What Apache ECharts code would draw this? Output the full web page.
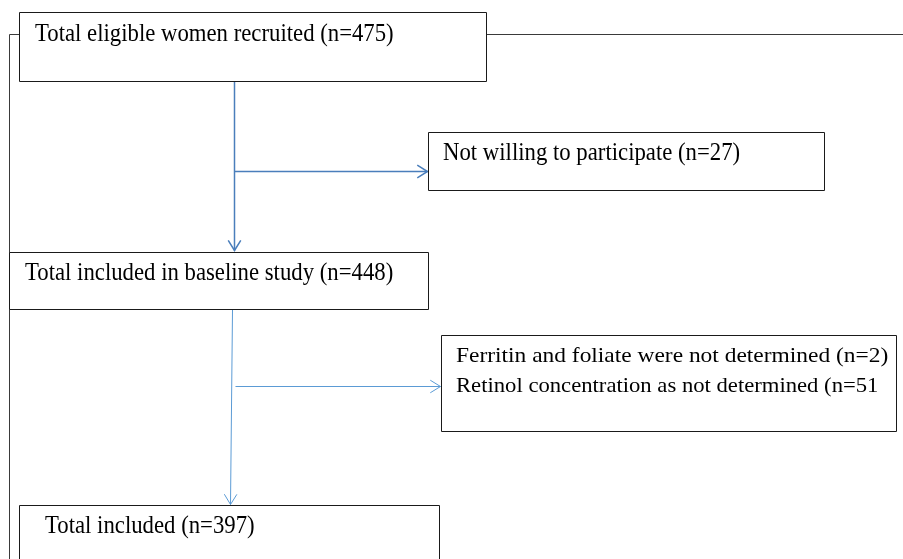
<!DOCTYPE html>
<html><head><meta charset="utf-8">
<script src="https://cdn.jsdelivr.net/npm/echarts@6/dist/echarts.min.js"></script>
<style>html,body{margin:0;padding:0;background:#fff}#c{width:903px;height:559px}</style>
</head><body><div id="c"></div>
<script>
// ---- data ----
const stepLabels = ['Total eligible women recruited', 'Not willing to participate', 'Total included in baseline study', 'Ferritin and foliate were not determined', 'Retinol concentration as not determined', 'Total included'];
const stepCounts = [475, 27, 448, 2, 51, 397];
const stepClosers = [')', ')', ')', ')', '', ')'];

// ---- layout (axis units = pixels) ----
const boxes = [
  {x0: 19, y0: 12, x1: 486, y1: 81},
  {x0: 428, y0: 132, x1: 824, y1: 190},
  {x0: 9, y0: 252, x1: 428, y1: 309},
  {x0: 441, y0: 335, x1: 896, y1: 431},
  {x0: 19, y0: 505, x1: 439, y1: 575}
];
const textPos = [[35, 34.6], [443, 153.6], [25, 273.3], [456, 356.6], [456, 386.6], [45, 526.6]];
const textSize = [25, 25, 25, 22, 22, 25];
const textScaleX = [0.91, 0.91, 0.91, 1.065, 1.03, 0.91];
const connectors = [
  {pts: [[234, 81], [234, 250]], color: '#4a7ebb', width: 1.5, arrow: true},
  {pts: [[234, 171], [427, 171]], color: '#4a7ebb', width: 1.5, arrow: true},
  {pts: [[232, 309], [230, 504]], color: '#5b9bd5', width: 1, arrow: true},
  {pts: [[235, 386], [440, 386]], color: '#5b9bd5', width: 1, arrow: true},
  {pts: [[486, 34], [903, 34]], color: '#3a3a3a', width: 1, arrow: false},
  {pts: [[19, 34], [9, 34], [9, 559]], color: '#3a3a3a', width: 1, arrow: false}
];

const textFor = i => stepLabels[i] + ' (n=' + stepCounts[i] + stepClosers[i];
const crisp = v => Math.round(v) + 0.5;

const chart = echarts.init(document.getElementById('c'), null, {renderer: 'canvas'});
chart.setOption({
  animation: false,
  grid: {left: 0, right: 0, top: 0, bottom: 0},
  xAxis: {type: 'value', min: 0, max: 903, show: false},
  yAxis: {type: 'value', min: 0, max: 559, inverse: true, show: false},
  series: [
    {
      type: 'custom',
      coordinateSystem: 'cartesian2d',
      data: connectors.map((c, i) => [i]),
      renderItem: (params, api) => {
        const c = connectors[params.dataIndex];
        const pts = c.pts.map(p => api.coord(p)).map(p => [crisp(p[0]), crisp(p[1])]);
        const children = [{
          type: 'polyline', shape: {points: pts},
          style: {stroke: c.color, lineWidth: c.width, fill: null}
        }];
        if (c.arrow) {
          const a = pts[pts.length - 2], b = pts[pts.length - 1];
          const ang = Math.atan2(b[1] - a[1], b[0] - a[0]);
          const L = 12, W = 0.55;
          const p1 = [b[0] - L * Math.cos(ang - W), b[1] - L * Math.sin(ang - W)];
          const p2 = [b[0] - L * Math.cos(ang + W), b[1] - L * Math.sin(ang + W)];
          children.push({type: 'polyline', shape: {points: [p1, b, p2]},
            style: {stroke: c.color, lineWidth: c.width, fill: null}});
        }
        return {type: 'group', children};
      }
    },
    {
      type: 'custom',
      coordinateSystem: 'cartesian2d',
      data: boxes.map((b, i) => [i]),
      renderItem: (params, api) => {
        const b = boxes[params.dataIndex];
        const p0 = api.coord([b.x0, b.y0]), p1 = api.coord([b.x1, b.y1]);
        return {
          type: 'rect',
          shape: {x: crisp(p0[0]), y: crisp(p0[1]), width: Math.round(p1[0] - p0[0]), height: Math.round(p1[1] - p0[1])},
          style: {stroke: '#1a1a1a', lineWidth: 1, fill: '#fff'}
        };
      }
    },
    {
      type: 'custom',
      coordinateSystem: 'cartesian2d',
      data: stepLabels.map((s, i) => [i]),
      renderItem: (params, api) => {
        const i = params.dataIndex;
        const p = api.coord(textPos[i]);
        return {
          type: 'text', x: p[0], y: p[1], scaleX: textScaleX[i],
          style: {
            text: textFor(i), fill: '#000',
            font: textSize[i] + 'px "Liberation Serif"',
            align: 'left', verticalAlign: 'middle'
          }
        };
      }
    }
  ]
});
</script></body></html>
